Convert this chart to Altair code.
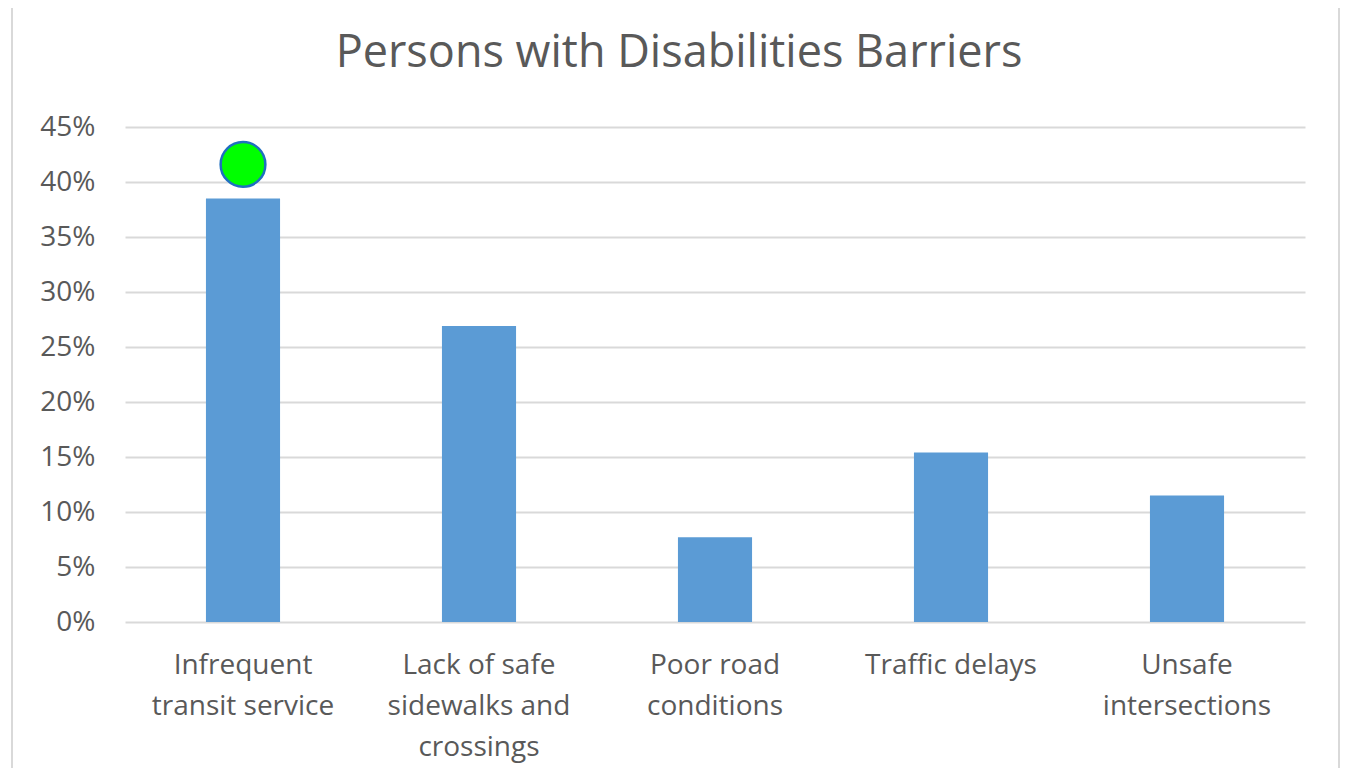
import altair as alt
import pandas as pd

title_text = ["Persons with Disabilities Barriers"]
label_lines = [
    "Infrequent|transit service",
    "Lack of safe|sidewalks and|crossings",
    "Poor road|conditions",
    "Traffic delays",
    "Unsafe|intersections",
]
values = [0.385, 0.269, 0.077, 0.154, 0.115]
marker_category = ["Infrequent|transit service"]
marker_value = [0.416]
y_ticks = [0, 0.05, 0.10, 0.15, 0.20, 0.25, 0.30, 0.35, 0.40, 0.45]

df = pd.DataFrame({"cat": label_lines, "value": values})
dm = pd.DataFrame({"cat": marker_category, "value": marker_value})
dt = pd.DataFrame({"t": title_text})

FONT = "Open Sans"
GREY = "#595959"

x = alt.X(
    "cat:N",
    sort=label_lines,
    scale=alt.Scale(paddingInner=0.686, paddingOuter=0.343),
    axis=alt.Axis(
        title=None,
        labelAngle=0,
        labelExpr="split(datum.label, '|')",
        labelFont=FONT,
        labelFontSize=28,
        labelColor=GREY,
        labelLineHeight=41,
        labelPadding=29,
        labelBaseline="top",
        labelLimit=0,
        ticks=False,
        domain=False,
        grid=False,
    ),
)
y = alt.Y(
    "value:Q",
    scale=alt.Scale(domain=[0, 0.45], nice=False),
    axis=alt.Axis(
        title=None,
        values=y_ticks,
        format=".0%",
        labelFont=FONT,
        labelFontSize=28,
        labelColor=GREY,
        labelPadding=30,
        ticks=False,
        domain=False,
        grid=True,
        gridColor="#d9d9d9",
        gridWidth=2,
    ),
)

bars = alt.Chart(df).mark_bar(color="#5B9BD5").encode(x=x, y=y)
marker = alt.Chart(dm).mark_point(
    shape="circle", filled=True, fill="#00FF00", stroke="#1F6FC0",
    strokeWidth=2.5, size=2000, opacity=1
).encode(x=alt.X("cat:N", sort=label_lines), y="value:Q")

title = alt.Chart(dt).mark_text(
    font=FONT, fontSize=45, color=GREY, baseline="alphabetic", align="center"
).encode(text="t:N", x=alt.value(554), y=alt.value(-60))

border = pd.DataFrame({"bx": [0]})
left = alt.Chart(border).mark_rule(color="#d9d9d9", strokeWidth=2).encode(
    x=alt.value(-113), y=alt.value(-130), y2=alt.value(660))
right = alt.Chart(border).mark_rule(color="#d9d9d9", strokeWidth=2).encode(
    x=alt.value(1214), y=alt.value(-130), y2=alt.value(660))

chart = alt.layer(bars, marker, title, left, right).properties(
    width=1180,
    height=495,
    autosize=alt.AutoSizeParams(type="none"),
    padding={"left": 117, "top": 119, "right": 36, "bottom": 146},
).configure_view(stroke=None)

chart.save("out.html", embed_options={"renderer": "svg", "actions": False})
